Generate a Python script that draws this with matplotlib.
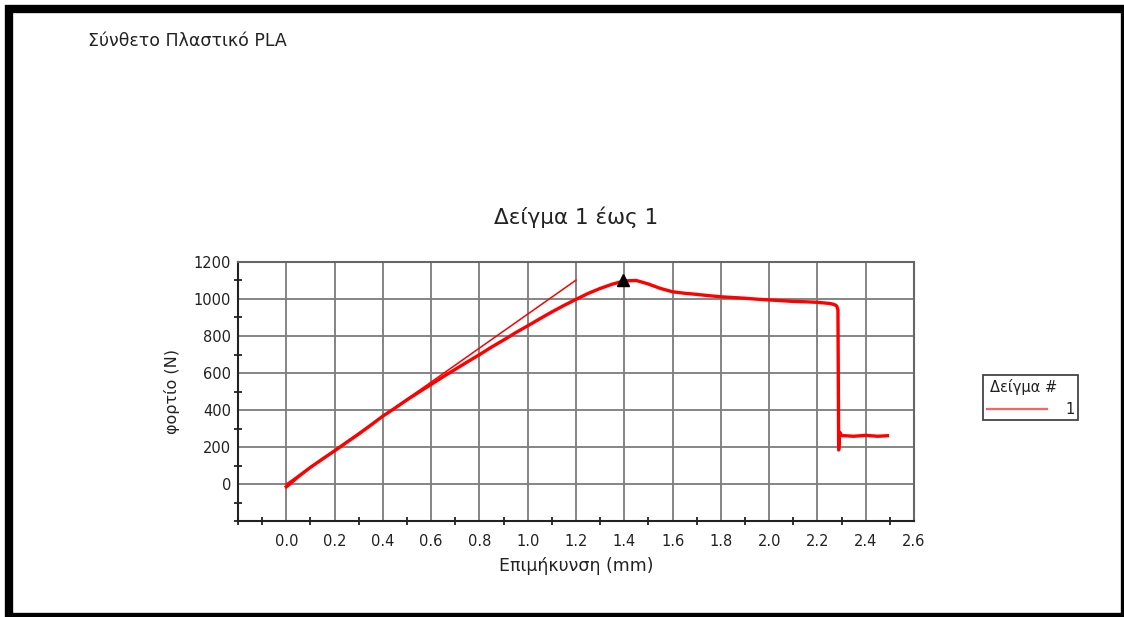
import matplotlib
matplotlib.use("Agg")
import matplotlib.pyplot as plt
from matplotlib.patches import Rectangle
from matplotlib.lines import Line2D
from matplotlib.ticker import MultipleLocator

# καμπύλη φορτίου - επιμήκυνσης (mm, N)
elong = [0.00, 0.01, 0.05, 0.10, 0.15, 0.20, 0.25, 0.30, 0.35, 0.40,
         0.45, 0.50, 0.55, 0.60, 0.65, 0.70, 0.75, 0.80, 0.85, 0.90,
         0.95, 1.00, 1.05, 1.10, 1.15, 1.20, 1.25, 1.30, 1.35, 1.40,
         1.45, 1.50, 1.55, 1.60, 1.65, 1.70, 1.75, 1.80, 1.85, 1.90,
         1.95, 2.00, 2.05, 2.10, 2.15, 2.20, 2.25, 2.27, 2.28, 2.285,
         2.288, 2.292, 2.30, 2.35, 2.40, 2.45, 2.49]
load = [-15, -5, 40, 90, 135, 179, 225, 270, 318, 367,
        410, 455, 497, 538, 580, 620, 660, 699, 740, 778,
        818, 855, 893, 930, 965, 998, 1030, 1057, 1080, 1098,
        1100, 1081, 1057, 1039, 1031, 1025, 1018, 1012, 1008, 1004,
        999, 995, 991, 987, 985, 982, 976, 970, 962, 940,
        184, 280, 262, 258, 263, 258, 261]

# ευθεία μέτρου ελαστικότητας
fit_x = [0.0, 1.2]
fit_y = [0.0, 1102]

# μέγιστο φορτίο
peak_x = 1.395
peak_y = 1100

xticks = [0.0, 0.2, 0.4, 0.6, 0.8, 1.0, 1.2, 1.4, 1.6, 1.8, 2.0, 2.2, 2.4, 2.6]
yticks = [0, 200, 400, 600, 800, 1000, 1200]

W, H = 1124, 617
fig = plt.figure(figsize=(W / 100, H / 100), dpi=100)
fig.patch.set_facecolor("white")

def fx(px):
    return px / W

def fy(py):
    return 1 - py / H

ax = fig.add_axes([fx(238), fy(521), fx(914) - fx(238), fy(262) - fy(521)])
ax.set_xlim(-0.2, 2.6)
ax.set_ylim(-200, 1200)

ax.plot(elong, load, color="red", lw=2.4, solid_joinstyle="round", zorder=3)
ax.plot(fit_x, fit_y, color="red", lw=1.1, zorder=3)
ax.plot([peak_x], [peak_y], marker="^", color="black", ms=8, zorder=4)

ax.set_xticks(xticks)
ax.set_xticklabels([f"{v:.1f}" for v in xticks])
ax.set_yticks(yticks)
ax.xaxis.set_minor_locator(MultipleLocator(0.1))
ax.yaxis.set_minor_locator(MultipleLocator(100))
ax.tick_params(which="both", direction="inout", color="#222222", width=1.3)
ax.tick_params(which="major", length=0, labelsize=10.5, labelcolor="#222222")
ax.tick_params(axis="y", which="major", pad=5)
ax.tick_params(axis="x", which="major", pad=9)
ax.tick_params(which="minor", length=6)
ax.grid(True, which="major", color="#7c7c7c", lw=1.3)
ax.set_axisbelow(True)
for sp in ax.spines.values():
    sp.set_color("#666666")
    sp.set_linewidth(1.5)
ax.spines["left"].set_color("#222222")
ax.spines["bottom"].set_color("#222222")

ax.set_xlabel("Επιμήκυνση (mm)", fontsize=12.5, color="#222222", labelpad=6)
ax.set_ylabel("φορτίο (N)", fontsize=11.5, color="#222222", labelpad=10)
ax.set_title("Δείγμα 1 έως 1", fontsize=15.5, color="#222222", pad=27)

fig.text(fx(88), fy(41), "Σύνθετο Πλαστικό PLA", fontsize=12.5, color="#222222",
         va="center", ha="left")

# υπόμνημα
fig.patches.append(Rectangle((fx(983), fy(420)), fx(1078) - fx(983), fy(375) - fy(420),
                             transform=fig.transFigure, fill=False,
                             edgecolor="#444444", lw=1.3))
fig.text(fx(990), fy(387), "Δείγμα #", fontsize=10.5, color="#222222", va="center", ha="left")
fig.lines.append(Line2D([fx(987), fx(1047)], [fy(409), fy(409)], transform=fig.transFigure,
                        color="#ff6060", lw=1.6))
fig.text(fx(1075), fy(410), "1", fontsize=10.5, color="#222222", va="center", ha="right")

# μαύρο πλαίσιο γύρω από την εικόνα
fig.patches.append(Rectangle((fx(9), fy(617)), fx(1125) - fx(9), fy(9) - fy(617),
                             transform=fig.transFigure, fill=False,
                             edgecolor="black", lw=6))

fig.savefig("out.png", dpi=100)
